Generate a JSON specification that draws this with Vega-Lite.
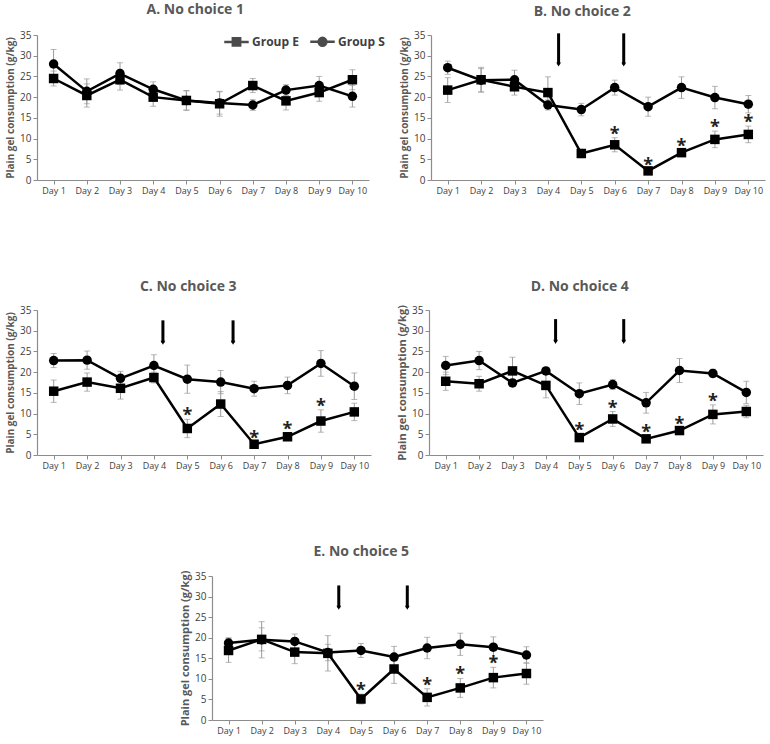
{
"$schema": "https://vega.github.io/schema/vega-lite/v6.json",
"padding": {"left": 5, "top": 3, "right": 2, "bottom": 2},
"spacing": 75,
"datasets": {
"pts": [
{"p":"A","g":"E","day":1,"v":24.5,"e":1.8},{"p":"A","g":"E","day":2,"v":20.4,"e":2.8},{"p":"A","g":"E","day":3,"v":24.2,"e":2.5},{"p":"A","g":"E","day":4,"v":20.0,"e":2.2},{"p":"A","g":"E","day":5,"v":19.2,"e":2.4},{"p":"A","g":"E","day":6,"v":18.4,"e":3.0},{"p":"A","g":"E","day":7,"v":22.8,"e":1.7},{"p":"A","g":"E","day":8,"v":19.1,"e":2.2},{"p":"A","g":"E","day":9,"v":21.1,"e":2.1},{"p":"A","g":"E","day":10,"v":24.2,"e":2.4},
{"p":"A","g":"S","day":1,"v":28.0,"e":3.5},{"p":"A","g":"S","day":2,"v":21.4,"e":3.0},{"p":"A","g":"S","day":3,"v":25.7,"e":2.6},{"p":"A","g":"S","day":4,"v":21.9,"e":1.8},{"p":"A","g":"S","day":5,"v":19.2,"e":2.3},{"p":"A","g":"S","day":6,"v":18.6,"e":2.7},{"p":"A","g":"S","day":7,"v":18.1,"e":1.3},{"p":"A","g":"S","day":8,"v":21.7,"e":1.3},{"p":"A","g":"S","day":9,"v":22.8,"e":2.2},{"p":"A","g":"S","day":10,"v":20.2,"e":2.6},
{"p":"B","g":"E","day":1,"v":21.7,"e":3.0},{"p":"B","g":"E","day":2,"v":24.2,"e":3.0},{"p":"B","g":"E","day":3,"v":22.5,"e":2.0},{"p":"B","g":"E","day":4,"v":21.1,"e":3.8},{"p":"B","g":"E","day":5,"v":6.4,"e":1.0},{"p":"B","g":"E","day":6,"v":8.5,"e":1.7,"s":1},{"p":"B","g":"E","day":7,"v":2.2,"e":0.5,"s":1},{"p":"B","g":"E","day":8,"v":6.6,"e":0.6,"s":1},{"p":"B","g":"E","day":9,"v":9.8,"e":2.0,"s":1},{"p":"B","g":"E","day":10,"v":11.0,"e":2.0,"s":1},
{"p":"B","g":"S","day":1,"v":27.1,"e":1.6},{"p":"B","g":"S","day":2,"v":24.1,"e":2.8},{"p":"B","g":"S","day":3,"v":24.2,"e":2.3},{"p":"B","g":"S","day":4,"v":18.1,"e":1.2},{"p":"B","g":"S","day":5,"v":17.0,"e":1.5},{"p":"B","g":"S","day":6,"v":22.3,"e":1.8},{"p":"B","g":"S","day":7,"v":17.7,"e":2.3},{"p":"B","g":"S","day":8,"v":22.3,"e":2.6},{"p":"B","g":"S","day":9,"v":19.9,"e":2.7},{"p":"B","g":"S","day":10,"v":18.3,"e":2.1},
{"p":"C","g":"E","day":1,"v":15.4,"e":2.7},{"p":"C","g":"E","day":2,"v":17.6,"e":2.2},{"p":"C","g":"E","day":3,"v":16.1,"e":2.6},{"p":"C","g":"E","day":4,"v":18.7,"e":1.3},{"p":"C","g":"E","day":5,"v":6.4,"e":2.2,"s":1},{"p":"C","g":"E","day":6,"v":12.3,"e":3.0},{"p":"C","g":"E","day":7,"v":2.6,"e":0.5,"s":1},{"p":"C","g":"E","day":8,"v":4.4,"e":0.8,"s":1},{"p":"C","g":"E","day":9,"v":8.2,"e":2.7,"s":1},{"p":"C","g":"E","day":10,"v":10.4,"e":2.1},
{"p":"C","g":"S","day":1,"v":22.8,"e":1.7},{"p":"C","g":"S","day":2,"v":22.9,"e":2.2},{"p":"C","g":"S","day":3,"v":18.5,"e":1.7},{"p":"C","g":"S","day":4,"v":21.6,"e":2.6},{"p":"C","g":"S","day":5,"v":18.3,"e":3.4},{"p":"C","g":"S","day":6,"v":17.6,"e":2.8},{"p":"C","g":"S","day":7,"v":16.0,"e":1.8},{"p":"C","g":"S","day":8,"v":16.8,"e":2.0},{"p":"C","g":"S","day":9,"v":22.1,"e":3.1},{"p":"C","g":"S","day":10,"v":16.6,"e":3.2},
{"p":"D","g":"E","day":1,"v":17.8,"e":2.2},{"p":"D","g":"E","day":2,"v":17.2,"e":1.8},{"p":"D","g":"E","day":3,"v":20.3,"e":3.3},{"p":"D","g":"E","day":4,"v":16.8,"e":3.0},{"p":"D","g":"E","day":5,"v":4.2,"e":0.8,"s":1},{"p":"D","g":"E","day":6,"v":8.7,"e":1.8,"s":1},{"p":"D","g":"E","day":7,"v":3.9,"e":0.7,"s":1},{"p":"D","g":"E","day":8,"v":5.9,"e":0.5,"s":1},{"p":"D","g":"E","day":9,"v":9.8,"e":2.3,"s":1},{"p":"D","g":"E","day":10,"v":10.5,"e":1.5},
{"p":"D","g":"S","day":1,"v":21.6,"e":2.2},{"p":"D","g":"S","day":2,"v":22.8,"e":2.2},{"p":"D","g":"S","day":3,"v":17.4,"e":0.8},{"p":"D","g":"S","day":4,"v":20.3,"e":0.7},{"p":"D","g":"S","day":5,"v":14.8,"e":2.6},{"p":"D","g":"S","day":6,"v":17.0,"e":1.2},{"p":"D","g":"S","day":7,"v":12.6,"e":2.5},{"p":"D","g":"S","day":8,"v":20.4,"e":2.9},{"p":"D","g":"S","day":9,"v":19.7,"e":1.0},{"p":"D","g":"S","day":10,"v":15.1,"e":2.7},
{"p":"E","g":"E","day":1,"v":16.9,"e":2.9},{"p":"E","g":"E","day":2,"v":19.6,"e":2.8},{"p":"E","g":"E","day":3,"v":16.5,"e":2.8},{"p":"E","g":"E","day":4,"v":16.2,"e":4.3},{"p":"E","g":"E","day":5,"v":5.1,"e":1.2,"s":1},{"p":"E","g":"E","day":6,"v":12.4,"e":3.5},{"p":"E","g":"E","day":7,"v":5.5,"e":2.1,"s":1},{"p":"E","g":"E","day":8,"v":7.8,"e":2.3,"s":1},{"p":"E","g":"E","day":9,"v":10.3,"e":2.5,"s":1},{"p":"E","g":"E","day":10,"v":11.3,"e":2.6},
{"p":"E","g":"S","day":1,"v":18.7,"e":1.3},{"p":"E","g":"S","day":2,"v":19.5,"e":4.4},{"p":"E","g":"S","day":3,"v":19.1,"e":1.8},{"p":"E","g":"S","day":4,"v":16.4,"e":2.0},{"p":"E","g":"S","day":5,"v":16.9,"e":1.7},{"p":"E","g":"S","day":6,"v":15.3,"e":2.6},{"p":"E","g":"S","day":7,"v":17.5,"e":2.6},{"p":"E","g":"S","day":8,"v":18.4,"e":2.7},{"p":"E","g":"S","day":9,"v":17.7,"e":2.5},{"p":"E","g":"S","day":10,"v":15.8,"e":2.0}
],
"arr": [
{"p":"B","x":4.32,"y1":35.4,"y2":27.9},{"p":"B","x":6.27,"y1":35.4,"y2":27.9},
{"p":"C","x":4.27,"y1":32.5,"y2":27.1},{"p":"C","x":6.37,"y1":32.5,"y2":27.1},
{"p":"D","x":4.29,"y1":32.8,"y2":27.3},{"p":"D","x":6.33,"y1":32.8,"y2":27.3},
{"p":"E","x":4.33,"y1":32.7,"y2":27.3},{"p":"E","x":6.40,"y1":32.7,"y2":27.3}
]
},
"config": {
"view": {"stroke": null},
"font": "Open Sans",
"axis": {"grid": false, "domainColor": "#8c8c8c", "tickColor": "#8c8c8c", "domainWidth": 1.2, "tickSize": 4, "labelColor": "#404040", "labelFontSize": 9, "titleColor": "#595959", "titleFontSize": 10, "titleFontWeight": "bold", "titlePadding": 4},
"axisY": {"labelFontSize": 10},
"title": {"fontSize": 14, "fontWeight": "bold", "color": "#595959", "frame": "bounds", "offset": 11}
},
"vconcat": [
{"spacing": 84, "vconcat": [
{"spacing": 14, "hconcat": [
{"width": 332, "height": 145, "title": "A. No choice 1",
 "encoding": {
  "x": {"field": "day", "type": "quantitative", "scale": {"domain": [0.5, 10.5], "nice": false, "zero": false}, "axis": {"values": [1,2,3,4,5,6,7,8,9,10], "labelExpr": "'Day ' + datum.value", "title": null}},
  "y": {"field": "v", "type": "quantitative", "scale": {"domain": [0, 35], "nice": false}, "axis": {"values": [0,5,10,15,20,25,30,35], "title": "Plain gel consumption (g/kg)"}}
 },
 "resolve": {"scale": {"shape": "independent"}},
 "layer": [
  {"data": {"name": "pts"}, "transform": [{"filter": "datum.p==='A'"}], "mark": {"type": "errorbar", "ticks": {"size": 6}, "color": "#9a9a9a", "thickness": 1}, "encoding": {"yError": {"field": "e"}, "detail": {"field": "g"}}},
  {"data": {"name": "pts"}, "transform": [{"filter": "datum.p==='A'"}], "mark": {"type": "line", "color": "black", "strokeWidth": 2.5}, "encoding": {"detail": {"field": "g"}}},
  {"data": {"name": "pts"}, "transform": [{"filter": "datum.p==='A'"}], "mark": {"type": "point", "filled": true, "color": "black", "size": 90, "opacity": 1}, "encoding": {"shape": {"field": "g", "type": "nominal", "scale": {"domain": ["E", "S"], "range": ["square", "circle"]}, "legend": null}}},
  {"data": {"name": "pts"}, "transform": [{"filter": "datum.p==='none'"}], "mark": {"type": "point", "filled": false, "color": "black", "strokeWidth": 2.5}, "encoding": {"shape": {"field": "g", "type": "nominal", "scale": {"domain": ["E", "S"], "range": ["M-1,0H1M-0.3,-0.3H0.3V0.3H-0.3ZM-0.12,-0.12H0.12V0.12H-0.12Z", "M-1,0H1M-0.32,0A0.32,0.32,0,1,0,0.32,0A0.32,0.32,0,1,0,-0.32,0ZM-0.12,0A0.12,0.12,0,1,0,0.12,0A0.12,0.12,0,1,0,-0.12,0Z"]},
   "legend": {"title": null, "orient": "none", "legendX": 186, "legendY": -7, "direction": "horizontal", "symbolSize": 600, "symbolStrokeWidth": 2.5, "symbolStrokeColor": "black", "symbolFillColor": "black", "labelFontSize": 12, "labelFontWeight": "bold", "labelColor": "#404040", "labelOffset": 2, "columnPadding": 6, "labelExpr": "datum.label === 'E' ? 'Group E' : 'Group S'",
    "encode": {"symbols": {"update": {"fill": {"value": "black"}, "stroke": {"value": "black"}, "strokeWidth": {"value": 2.5}, "opacity": {"value": 1}}}}}}}}
 ]},
{"width": 334, "height": 145, "title": "B. No choice 2",
 "encoding": {
  "x": {"field": "day", "type": "quantitative", "scale": {"domain": [0.5, 10.5], "nice": false, "zero": false}, "axis": {"values": [1,2,3,4,5,6,7,8,9,10], "labelExpr": "'Day ' + datum.value", "title": null}},
  "y": {"field": "v", "type": "quantitative", "scale": {"domain": [0, 35], "nice": false}, "axis": {"values": [0,5,10,15,20,25,30,35], "title": "Plain gel consumption (g/kg)"}}
 },
 "layer": [
  {"data": {"name": "pts"}, "transform": [{"filter": "datum.p==='B'"}], "mark": {"type": "errorbar", "ticks": {"size": 6}, "color": "#9a9a9a", "thickness": 1}, "encoding": {"yError": {"field": "e"}, "detail": {"field": "g"}}},
  {"data": {"name": "pts"}, "transform": [{"filter": "datum.p==='B'"}], "mark": {"type": "line", "color": "black", "strokeWidth": 2.5}, "encoding": {"detail": {"field": "g"}}},
  {"data": {"name": "pts"}, "transform": [{"filter": "datum.p==='B'"}], "mark": {"type": "point", "filled": true, "color": "black", "size": 90, "opacity": 1}, "encoding": {"shape": {"field": "g", "type": "nominal", "scale": {"domain": ["E", "S"], "range": ["square", "circle"]}, "legend": null}}},
  {"data": {"name": "pts"}, "transform": [{"filter": "datum.p==='B' && datum.s===1"}, {"calculate": "datum.v + datum.e", "as": "hi"}], "mark": {"type": "text", "text": "*", "fontSize": 18, "fontWeight": "bold", "baseline": "alphabetic", "dy": 2, "color": "#222222"}, "encoding": {"y": {"field": "hi", "type": "quantitative"}}},
  {"data": {"name": "arr"}, "transform": [{"filter": "datum.p==='B'"}], "mark": {"type": "rule", "color": "black", "strokeWidth": 3}, "encoding": {"x": {"field": "x", "type": "quantitative"}, "y": {"field": "y1", "type": "quantitative"}, "y2": {"field": "y2"}}},
  {"data": {"name": "arr"}, "transform": [{"filter": "datum.p==='B'"}], "mark": {"type": "point", "shape": "triangle-down", "filled": true, "color": "black", "size": 22, "opacity": 1}, "encoding": {"x": {"field": "x", "type": "quantitative"}, "y": {"field": "y2", "type": "quantitative"}}}
 ]}
]},
{"spacing": 25, "hconcat": [
{"width": 334, "height": 145, "title": "C. No choice 3",
 "encoding": {
  "x": {"field": "day", "type": "quantitative", "scale": {"domain": [0.5, 10.5], "nice": false, "zero": false}, "axis": {"values": [1,2,3,4,5,6,7,8,9,10], "labelExpr": "'Day ' + datum.value", "title": null}},
  "y": {"field": "v", "type": "quantitative", "scale": {"domain": [0, 35], "nice": false}, "axis": {"values": [0,5,10,15,20,25,30,35], "title": "Plain gel consumption (g/kg)"}}
 },
 "layer": [
  {"data": {"name": "pts"}, "transform": [{"filter": "datum.p==='C'"}], "mark": {"type": "errorbar", "ticks": {"size": 6}, "color": "#9a9a9a", "thickness": 1}, "encoding": {"yError": {"field": "e"}, "detail": {"field": "g"}}},
  {"data": {"name": "pts"}, "transform": [{"filter": "datum.p==='C'"}], "mark": {"type": "line", "color": "black", "strokeWidth": 2.5}, "encoding": {"detail": {"field": "g"}}},
  {"data": {"name": "pts"}, "transform": [{"filter": "datum.p==='C'"}], "mark": {"type": "point", "filled": true, "color": "black", "size": 90, "opacity": 1}, "encoding": {"shape": {"field": "g", "type": "nominal", "scale": {"domain": ["E", "S"], "range": ["square", "circle"]}, "legend": null}}},
  {"data": {"name": "pts"}, "transform": [{"filter": "datum.p==='C' && datum.s===1"}, {"calculate": "datum.v + datum.e", "as": "hi"}], "mark": {"type": "text", "text": "*", "fontSize": 18, "fontWeight": "bold", "baseline": "alphabetic", "dy": 2, "color": "#222222"}, "encoding": {"y": {"field": "hi", "type": "quantitative"}}},
  {"data": {"name": "arr"}, "transform": [{"filter": "datum.p==='C'"}], "mark": {"type": "rule", "color": "black", "strokeWidth": 3}, "encoding": {"x": {"field": "x", "type": "quantitative"}, "y": {"field": "y1", "type": "quantitative"}, "y2": {"field": "y2"}}},
  {"data": {"name": "arr"}, "transform": [{"filter": "datum.p==='C'"}], "mark": {"type": "point", "shape": "triangle-down", "filled": true, "color": "black", "size": 22, "opacity": 1}, "encoding": {"x": {"field": "x", "type": "quantitative"}, "y": {"field": "y2", "type": "quantitative"}}}
 ]},
{"width": 334, "height": 145, "title": "D. No choice 4",
 "encoding": {
  "x": {"field": "day", "type": "quantitative", "scale": {"domain": [0.5, 10.5], "nice": false, "zero": false}, "axis": {"values": [1,2,3,4,5,6,7,8,9,10], "labelExpr": "'Day ' + datum.value", "title": null}},
  "y": {"field": "v", "type": "quantitative", "scale": {"domain": [0, 35], "nice": false}, "axis": {"values": [0,5,10,15,20,25,30,35], "title": "Plain gel consumption (g/kg)", "titleFontSize": 11}}
 },
 "layer": [
  {"data": {"name": "pts"}, "transform": [{"filter": "datum.p==='D'"}], "mark": {"type": "errorbar", "ticks": {"size": 6}, "color": "#9a9a9a", "thickness": 1}, "encoding": {"yError": {"field": "e"}, "detail": {"field": "g"}}},
  {"data": {"name": "pts"}, "transform": [{"filter": "datum.p==='D'"}], "mark": {"type": "line", "color": "black", "strokeWidth": 2.5}, "encoding": {"detail": {"field": "g"}}},
  {"data": {"name": "pts"}, "transform": [{"filter": "datum.p==='D'"}], "mark": {"type": "point", "filled": true, "color": "black", "size": 90, "opacity": 1}, "encoding": {"shape": {"field": "g", "type": "nominal", "scale": {"domain": ["E", "S"], "range": ["square", "circle"]}, "legend": null}}},
  {"data": {"name": "pts"}, "transform": [{"filter": "datum.p==='D' && datum.s===1"}, {"calculate": "datum.v + datum.e", "as": "hi"}], "mark": {"type": "text", "text": "*", "fontSize": 18, "fontWeight": "bold", "baseline": "alphabetic", "dy": 2, "color": "#222222"}, "encoding": {"y": {"field": "hi", "type": "quantitative"}}},
  {"data": {"name": "arr"}, "transform": [{"filter": "datum.p==='D'"}], "mark": {"type": "rule", "color": "black", "strokeWidth": 3}, "encoding": {"x": {"field": "x", "type": "quantitative"}, "y": {"field": "y1", "type": "quantitative"}, "y2": {"field": "y2"}}},
  {"data": {"name": "arr"}, "transform": [{"filter": "datum.p==='D'"}], "mark": {"type": "point", "shape": "triangle-down", "filled": true, "color": "black", "size": 22, "opacity": 1}, "encoding": {"x": {"field": "x", "type": "quantitative"}, "y": {"field": "y2", "type": "quantitative"}}}
 ]}
]}
]},
{"spacing": 20, "hconcat": [
{"width": 122, "height": 10, "data": {"values": []}, "mark": {"type": "point", "opacity": 0}, "encoding": {}},
{"width": 331, "height": 144, "title": "E. No choice 5",
 "encoding": {
  "x": {"field": "day", "type": "quantitative", "scale": {"domain": [0.5, 10.5], "nice": false, "zero": false}, "axis": {"values": [1,2,3,4,5,6,7,8,9,10], "labelExpr": "'Day ' + datum.value", "title": null}},
  "y": {"field": "v", "type": "quantitative", "scale": {"domain": [0, 35], "nice": false}, "axis": {"values": [0,5,10,15,20,25,30,35], "title": "Plain gel consumption (g/kg)", "titleFontSize": 11}}
 },
 "layer": [
  {"data": {"name": "pts"}, "transform": [{"filter": "datum.p==='E'"}], "mark": {"type": "errorbar", "ticks": {"size": 6}, "color": "#9a9a9a", "thickness": 1}, "encoding": {"yError": {"field": "e"}, "detail": {"field": "g"}}},
  {"data": {"name": "pts"}, "transform": [{"filter": "datum.p==='E'"}], "mark": {"type": "line", "color": "black", "strokeWidth": 2.5}, "encoding": {"detail": {"field": "g"}}},
  {"data": {"name": "pts"}, "transform": [{"filter": "datum.p==='E'"}], "mark": {"type": "point", "filled": true, "color": "black", "size": 90, "opacity": 1}, "encoding": {"shape": {"field": "g", "type": "nominal", "scale": {"domain": ["E", "S"], "range": ["square", "circle"]}, "legend": null}}},
  {"data": {"name": "pts"}, "transform": [{"filter": "datum.p==='E' && datum.s===1"}, {"calculate": "datum.v + datum.e", "as": "hi"}], "mark": {"type": "text", "text": "*", "fontSize": 18, "fontWeight": "bold", "baseline": "alphabetic", "dy": 2, "color": "#222222"}, "encoding": {"y": {"field": "hi", "type": "quantitative"}}},
  {"data": {"name": "arr"}, "transform": [{"filter": "datum.p==='E'"}], "mark": {"type": "rule", "color": "black", "strokeWidth": 3}, "encoding": {"x": {"field": "x", "type": "quantitative"}, "y": {"field": "y1", "type": "quantitative"}, "y2": {"field": "y2"}}},
  {"data": {"name": "arr"}, "transform": [{"filter": "datum.p==='E'"}], "mark": {"type": "point", "shape": "triangle-down", "filled": true, "color": "black", "size": 22, "opacity": 1}, "encoding": {"x": {"field": "x", "type": "quantitative"}, "y": {"field": "y2", "type": "quantitative"}}}
 ]}
]}
]
}
